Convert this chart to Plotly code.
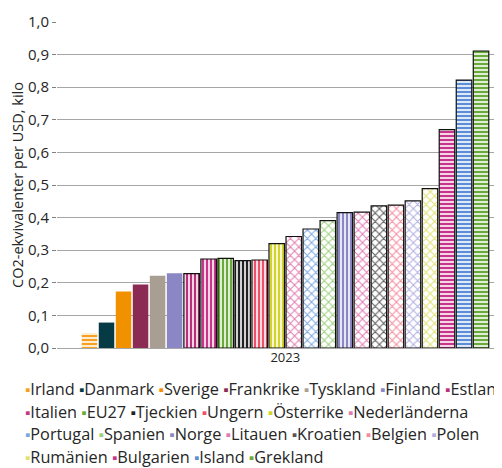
import plotly.graph_objects as go

year = "2023"
countries = ["Irland", "Danmark", "Sverige", "Frankrike", "Tyskland", "Finland", "Estland",
             "Italien", "EU27", "Tjeckien", "Ungern", "Österrike", "Nederländerna",
             "Portugal", "Spanien", "Norge", "Litauen", "Kroatien", "Belgien", "Polen",
             "Rumänien", "Bulgarien", "Island", "Grekland"]
values = [0.046, 0.078, 0.173, 0.195, 0.222, 0.229, 0.228,
          0.273, 0.275, 0.268, 0.270, 0.320, 0.342,
          0.365, 0.391, 0.415, 0.417, 0.436, 0.438, 0.451,
          0.489, 0.670, 0.822, 0.911]
colors = ["#f5a020", "#063a45", "#f29100", "#8b2a52", "#a89f92", "#8b86c4", "#b8307a",
          "#c8358a", "#6aaa3a", "#222222", "#f0506a", "#d2d42a", "#e07ab0",
          "#7aa7e0", "#9ccf7a", "#8b86c4", "#e07ab0", "#555555", "#f58a9a", "#b0aee0",
          "#e0e070", "#c8358a", "#5a8fd8", "#6aaa3a"]
patterns = ["-", "", "", "", "", "", "|",
            "|", "|", "|", "|", "|", "x",
            "x", "x", "|", "x", "x", "x", "x",
            "x", "-", "-", "-"]
legend_rows = [(0, 7), (7, 13), (13, 20), (20, 24)]
y_ticks = [0.0, 0.1, 0.2, 0.3, 0.4, 0.5, 0.6, 0.7, 0.8, 0.9, 1.0]

FONT = "Open Sans"
fig = go.Figure()
for i, (name, v, c, p) in enumerate(zip(countries, values, colors, patterns)):
    outlined = p != "" and i > 0
    if p:
        if p == "x":
            pat = dict(shape=p, fgcolor=c, bgcolor="white", size=6, solidity=0.3, fgopacity=1)
        else:
            pat = dict(shape=p, fgcolor=c, bgcolor="white", size=4, solidity=0.6, fgopacity=1)
        marker = dict(color="white", pattern=pat,
                      line=dict(color="#111111" if outlined else "white",
                                width=1.2 if outlined else 0))
    else:
        marker = dict(color=c, line=dict(width=0))
    fig.add_trace(go.Bar(x=[year], y=[v], name=name, marker=marker, showlegend=False))

# page has an 8px body margin: figure is drawn 8px right/down in the window
W, H = 494, 460
ml, mr, mt, mb = 49, 0, 14, 120
pw, ph = W - ml - mr, H - mt - mb

fig.update_layout(
    width=W, height=H,
    margin=dict(l=ml, r=mr, t=mt, b=mb),
    barmode="group", bargap=0.105, bargroupgap=0.09,
    plot_bgcolor="white", paper_bgcolor="white",
    separators=", ",
    font=dict(family=FONT, color="#262626", size=14),
    xaxis=dict(range=[-0.5, 0.4748], showgrid=False, showline=False, ticks="",
               tickfont=dict(size=13), fixedrange=True),
    yaxis=dict(range=[0, 1.0], tickvals=y_ticks, tickformat=".1f",
               showgrid=True, gridcolor="#a6a6a6", gridwidth=1,
               zeroline=True, zerolinecolor="#a6a6a6", zerolinewidth=1,
               ticks="outside", ticklen=4, tickcolor="#7f7f7f",
               tickfont=dict(size=15),
               title=dict(text="CO2-ekvivalenter per USD, kilo", font=dict(size=14.5), standoff=11)),
)

row_y = [381, 403.5, 426, 448.5]
for (a, b), ypx in zip(legend_rows, row_y):
    parts = []
    for j in range(a, b):
        parts.append(f"<span style='color:{colors[j]};font-size:15px'>▪</span>{countries[j]}")
    txt = " ".join(parts)
    fig.add_annotation(text=txt, xref="paper", yref="paper",
                       x=(15 - ml) / pw, y=(H - mb - ypx) / ph,
                       xanchor="left", yanchor="middle", showarrow=False,
                       font=dict(size=16.3, color="#262626", family=FONT))

fig.write_html("out.html")
